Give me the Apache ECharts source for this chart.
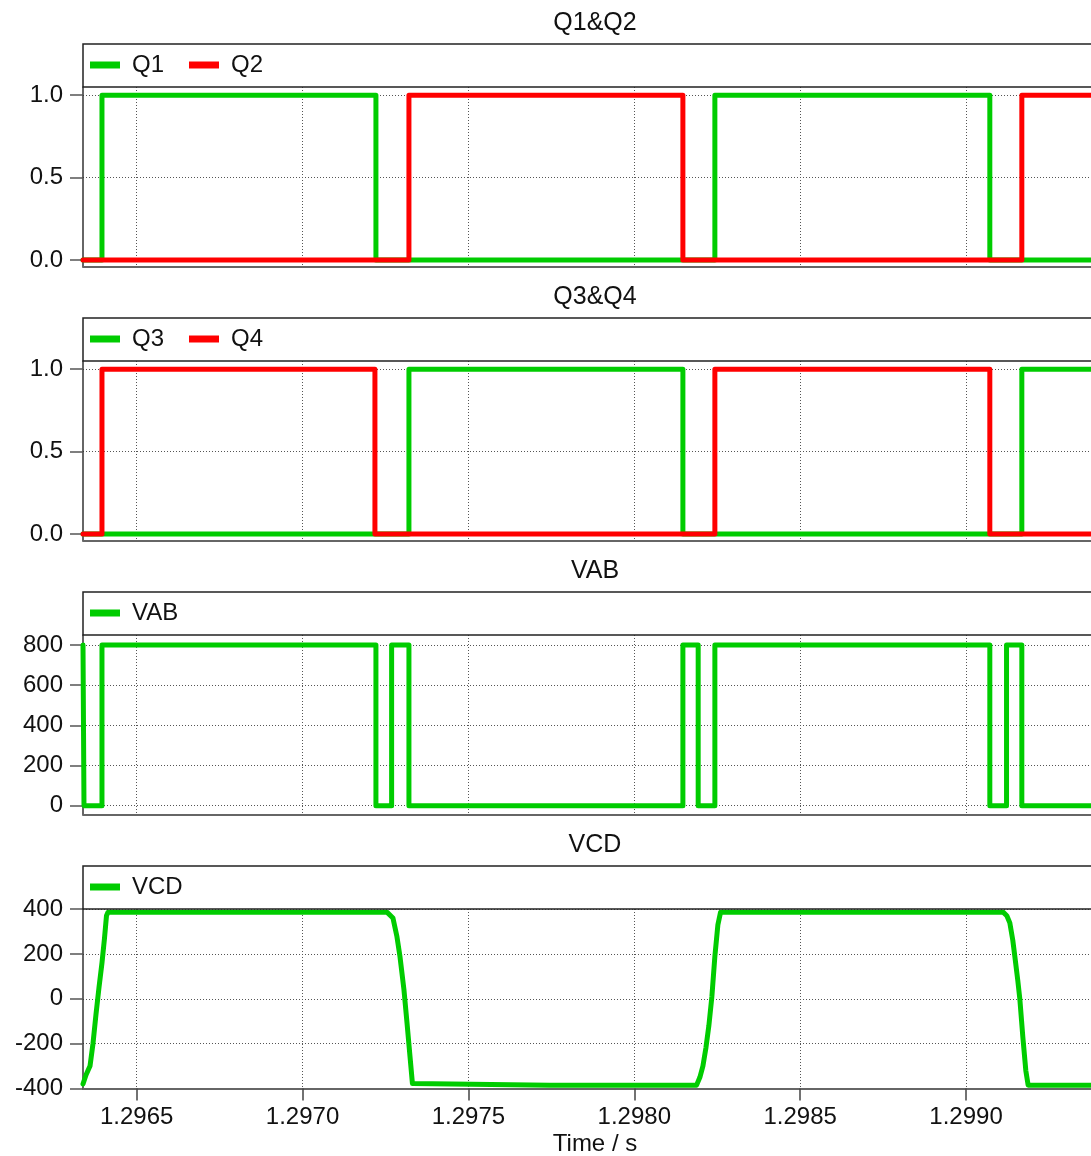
<!DOCTYPE html>
<html>
<head>
<meta charset="utf-8">
<script src="https://cdn.jsdelivr.net/npm/echarts@6/dist/echarts.min.js"></script>
<style>html,body{margin:0;padding:0;background:#fff}#c{width:1091px;height:1156px}</style>
</head>
<body>
<div id="c"></div>
<script>
// ---- data (time in s) ----
const xTicks = [1.2965, 1.2970, 1.2975, 1.2980, 1.2985, 1.2990];
const xMin = 1.2963382, xMax = 1.2993767;
const panelTitles = ['Q1&Q2', 'Q3&Q4', 'VAB', 'VCD'];
const xAxisTitle = 'Time / s';

const q1Time = [1.2963382, 1.2963954, 1.2963954, 1.2972212, 1.2972212, 1.2982429, 1.2982429, 1.2990717, 1.2990717, 1.2993767];
const q1Val  = [0, 0, 1, 1, 0, 0, 1, 1, 0, 0];
const q2Time = [1.2963382, 1.2973207, 1.2973207, 1.2981465, 1.2981465, 1.2991682, 1.2991682, 1.2993767];
const q2Val  = [0, 0, 1, 1, 0, 0, 1, 1];

const q3Time = [1.2963382, 1.2973207, 1.2973207, 1.2981465, 1.2981465, 1.2991682, 1.2991682, 1.2993767];
const q3Val  = [0, 0, 1, 1, 0, 0, 1, 1];
const q4Time = [1.2963382, 1.2963954, 1.2963954, 1.2972182, 1.2972182, 1.2982429, 1.2982429, 1.2990717, 1.2990717, 1.2993767];
const q4Val  = [0, 0, 1, 1, 0, 0, 1, 1, 0, 0];

const vabTime = [1.2963382, 1.2963412, 1.2963412, 1.2963954, 1.2963954, 1.2972212, 1.2972212, 1.2972685,
                 1.2972685, 1.2973207, 1.2973207, 1.2981465, 1.2981465, 1.2981926, 1.2981926, 1.2982429,
                 1.2982429, 1.2990717, 1.2990717, 1.2991221, 1.2991221, 1.2991682, 1.2991682, 1.2993767];
const vabVal  = [800, 800, 0, 0, 800, 800, 0, 0, 800, 800, 0, 0, 800, 800, 0, 0, 800, 800, 0, 0, 800, 800, 0, 0];

const vcdTime = [1.2963382, 1.2963472, 1.2963593, 1.2963683, 1.2963773, 1.2963864, 1.2963954, 1.2964030, 1.2964090, 1.2964135,
                 1.2968415, 1.2972544, 1.2972725, 1.2972845, 1.2972936, 1.2973056, 1.2973147, 1.2973237, 1.2973312, 1.2973357,
                 1.2977456, 1.2981878, 1.2981977, 1.2982068, 1.2982158, 1.2982248, 1.2982339, 1.2982429, 1.2982520, 1.2982601,
                 1.2987000, 1.2991118, 1.2991230, 1.2991320, 1.2991410, 1.2991471, 1.2991561, 1.2991621, 1.2991712, 1.2991802, 1.2991872,
                 1.2993767];
const vcdVal  = [-380, -340, -300, -200, -70, 50, 160, 270, 370, 386,
                 386, 386, 360, 277, 189, 41, -105, -254, -378, -385,
                 -385, -385, -350, -300, -220, -120, 10, 189, 330, 386,
                 386, 386, 370, 338, 260, 189, 80, 0, -170, -320, -385,
                 -385];

const yTicks = [[0, 0.5, 1], [0, 0.5, 1], [0, 200, 400, 600, 800], [-400, -200, 0, 200, 400]];
const yRange = [[-0.04, 1.05], [-0.04, 1.05], [-44, 850], [-400, 400]];

// ---- build ----
const GREEN = '#00cc00', RED = '#ff0000';
const FONT = 'Liberation Sans, Arial, sans-serif';
const zip = (t, v) => t.map((x, i) => [x, v[i]]);
const PSTEP = 274, TOP0 = 87, PH = 179.5, BOX0 = 44;

const grids = [], xAxes = [], yAxes = [], legends = [], graphics = [];
for (let k = 0; k < 4; k++) {
  const top = TOP0 + PSTEP * k;
  grids.push({left: 83, right: 0, top: top, height: PH, containLabel: false});
  const last = k === 3;
  xAxes.push({
    type: 'value', gridIndex: k, min: xMin, max: xMax,
    axisLine: {show: true, onZero: false, lineStyle: {color: '#666', width: 2}},
    axisTick: {show: last, customValues: xTicks, length: 12, lineStyle: {color: '#444', width: 1.5}},
    axisLabel: {show: last, customValues: xTicks, margin: 17, fontSize: 24, fontFamily: FONT, color: '#111',
                formatter: v => v.toFixed(4)},
    splitLine: {show: true, lineStyle: {color: '#555', type: [1, 2], width: 1}}
  });
  yAxes.push({
    type: 'value', gridIndex: k, min: yRange[k][0], max: yRange[k][1],
    axisLine: {show: true, onZero: false, lineStyle: {color: '#333', width: 1.5}},
    axisTick: {show: true, customValues: yTicks[k], length: 13, lineStyle: {color: '#555', width: 1.5}},
    axisLabel: {customValues: yTicks[k], margin: 20, fontSize: 24, fontFamily: FONT, color: '#111',
                formatter: v => (k < 2 ? v.toFixed(1) : String(v))},
    splitLine: {show: true, lineStyle: {color: '#555', type: [1, 2], width: 1}}
  });
  const boxTop = BOX0 + PSTEP * k;
  graphics.push({type: 'rect', z: 100, shape: {x: 83, y: boxTop, width: 1040, height: top - boxTop},
                 style: {fill: 'none', stroke: '#222', lineWidth: 1.5}});
  graphics.push({type: 'text', x: 595, y: boxTop - 21, z: 100,
                 style: {text: panelTitles[k], font: '25px ' + FONT, fill: '#111', textAlign: 'center', textVerticalAlign: 'middle'}});
}
graphics.push({type: 'text', x: 595, y: 1144, z: 100,
               style: {text: xAxisTitle, font: '24px ' + FONT, fill: '#111', textAlign: 'center', textVerticalAlign: 'middle'}});

const legendNames = [['Q1', 'Q2'], ['Q3', 'Q4'], ['VAB'], ['VCD']];
legendNames.forEach((names, k) => {
  legends.push({
    data: names, left: 90, top: BOX0 + PSTEP * k + 9, orient: 'horizontal', padding: 0,
    icon: 'rect', itemWidth: 30, itemHeight: 7, itemGap: 25, selectedMode: false,
    textStyle: {fontSize: 24, fontFamily: FONT, color: '#111', padding: [0, 0, 0, 7]}
  });
});

function line(name, idx, data, color) {
  return {
    name: name, type: 'line', xAxisIndex: idx, yAxisIndex: idx, data: data,
    showSymbol: false, symbol: 'none', clip: true, animation: false,
    color: color,
    lineStyle: {color: color, width: 5, join: 'round', cap: 'round'}
  };
}
const series = [
  line('Q1', 0, zip(q1Time, q1Val), GREEN),
  line('Q2', 0, zip(q2Time, q2Val), RED),
  line('Q3', 1, zip(q3Time, q3Val), GREEN),
  line('Q4', 1, zip(q4Time, q4Val), RED),
  line('VAB', 2, zip(vabTime, vabVal), GREEN),
  line('VCD', 3, zip(vcdTime, vcdVal), GREEN)
];

const chart = echarts.init(document.getElementById('c'), null, {renderer: 'canvas'});
chart.setOption({
  animation: false,
  backgroundColor: '#fff',
  grid: grids, xAxis: xAxes, yAxis: yAxes, legend: legends,
  series: series, graphic: graphics
});
</script>
</body>
</html>
